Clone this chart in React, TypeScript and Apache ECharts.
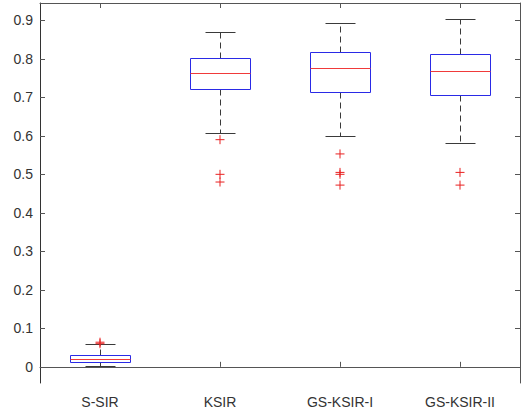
import React, { useEffect, useRef } from "react";
import * as echarts from "echarts";

const categories = ["S-SIR", "KSIR", "GS-KSIR-I", "GS-KSIR-II"];
const lowerWhisker = [0.001, 0.605, 0.598, 0.58];
const q1 = [0.011, 0.721, 0.712, 0.705];
const median = [0.019, 0.762, 0.775, 0.768];
const q3 = [0.029, 0.802, 0.816, 0.81];
const upperWhisker = [0.057, 0.869, 0.892, 0.901];
const outlierCategory = [0, 0, 1, 1, 1, 2, 2, 2, 2, 3, 3];
const outlierValue = [0.06, 0.064, 0.59, 0.5, 0.48, 0.553, 0.505, 0.5, 0.472, 0.505, 0.472];
const yTicks = [0, 0.1, 0.2, 0.3, 0.4, 0.5, 0.6, 0.7, 0.8, 0.9];

const FONT = "'Liberation Sans', Arial, sans-serif";
const AX_COLOR = "#555555";

export default function App() {
  const ref = useRef<HTMLDivElement>(null);
  useEffect(() => {
    if (!ref.current) return;
    const chart = echarts.init(ref.current, undefined, { renderer: "svg" });
    const boxData = categories.map((_, i) => [i, lowerWhisker[i], q1[i], median[i], q3[i], upperWhisker[i]]);
    const outData = outlierCategory.map((c, i) => [c, outlierValue[i]]);
    const crisp = (v: number) => Math.round(v - 0.5) + 0.5;

    const renderItem = (params: any, api: any) => {
      const idx = api.value(0);
      const lo = api.coord([idx, api.value(1)]);
      const a = api.coord([idx, api.value(2)]);
      const m = api.coord([idx, api.value(3)]);
      const b = api.coord([idx, api.value(4)]);
      const hi = api.coord([idx, api.value(5)]);
      const band = api.size([1, 0])[0];
      const half = band * 0.25;
      const cap = band * 0.125;
      const cx = crisp(lo[0]);
      const yLo = crisp(lo[1]);
      const yA = crisp(a[1]);
      const yM = crisp(m[1]);
      const yB = crisp(b[1]);
      const yHi = crisp(hi[1]);
      const x0 = crisp(cx - half);
      const x1 = crisp(cx + half);
      const whisk = { stroke: "#3a3a3a", lineWidth: 1, lineDash: [6, 4] };
      const capStyle = { stroke: "#3a3a3a", lineWidth: 1 };
      return {
        type: "group",
        children: [
          { type: "line", shape: { x1: cx, y1: yB, x2: cx, y2: yHi }, style: whisk },
          { type: "line", shape: { x1: cx, y1: yA, x2: cx, y2: yLo }, style: whisk },
          { type: "line", shape: { x1: cx - cap, y1: yHi, x2: cx + cap, y2: yHi }, style: capStyle },
          { type: "line", shape: { x1: cx - cap, y1: yLo, x2: cx + cap, y2: yLo }, style: capStyle },
          {
            type: "rect",
            shape: { x: x0, y: yB, width: x1 - x0, height: yA - yB },
            style: { fill: "#ffffff", stroke: "#2a2ae6", lineWidth: 1 },
          },
          { type: "line", shape: { x1: x0, y1: yM, x2: x1, y2: yM }, style: { stroke: "#f03a3a", lineWidth: 1 } },
        ],
      };
    };

    chart.setOption({
      animation: false,
      backgroundColor: "#ffffff",
      grid: { left: 40, right: 1, top: 3, bottom: 29 },
      xAxis: [
        {
          type: "category",
          data: categories,
          boundaryGap: true,
          position: "bottom",
          axisLine: { show: true, lineStyle: { color: AX_COLOR, width: 1 } },
          axisTick: { show: true, inside: true, length: 5, alignWithLabel: true, lineStyle: { color: AX_COLOR } },
          axisLabel: { color: "#333333", fontSize: 14, fontFamily: FONT, margin: 12 },
          splitLine: { show: false },
        },
        {
          type: "category",
          data: categories,
          boundaryGap: true,
          position: "top",
          axisLine: { show: true, onZero: false, lineStyle: { color: AX_COLOR, width: 1 } },
          axisTick: { show: true, inside: true, length: 5, alignWithLabel: true, lineStyle: { color: AX_COLOR } },
          axisLabel: { show: false },
          splitLine: { show: false },
        },
      ],
      yAxis: [
        {
          type: "value",
          min: -0.042,
          max: 0.945,
          position: "left",
          axisLine: { show: true, onZero: false, lineStyle: { color: "#333333", width: 1 } },
          axisTick: { show: true, inside: true, length: 5, customValues: yTicks, lineStyle: { color: AX_COLOR } },
          axisLabel: {
            color: "#333333",
            fontSize: 14,
            fontFamily: FONT,
            margin: 7,
            customValues: yTicks,
            formatter: (v: number) => (Math.abs(v) < 1e-9 ? "0" : String(Math.round(v * 10) / 10)),
          },
          splitLine: { show: false },
        },
        {
          type: "value",
          min: -0.042,
          max: 0.945,
          position: "right",
          axisLine: { show: true, onZero: false, lineStyle: { color: AX_COLOR, width: 1 } },
          axisTick: { show: true, inside: true, length: 5, customValues: yTicks, lineStyle: { color: AX_COLOR } },
          axisLabel: { show: false },
          splitLine: { show: false },
        },
      ],
      series: [
        {
          type: "custom",
          renderItem,
          data: boxData,
          encode: { x: 0, y: [1, 2, 3, 4, 5] },
          xAxisIndex: 0,
          yAxisIndex: 0,
          clip: false,
        },
        {
          type: "scatter",
          data: outData,
          xAxisIndex: 0,
          yAxisIndex: 0,
          symbol: "path://M0,5L10,5M5,0L5,10",
          symbolSize: 9,
          itemStyle: { color: "none", borderColor: "#e82020", borderWidth: 1, opacity: 1 },
          z: 5,
        },
      ],
    });
    return () => chart.dispose();
  }, []);
  return (
    <div
      ref={ref}
      style={{ position: "fixed", left: 0, top: 0, width: 521, height: 412, background: "#fff" }}
    />
  );
}
